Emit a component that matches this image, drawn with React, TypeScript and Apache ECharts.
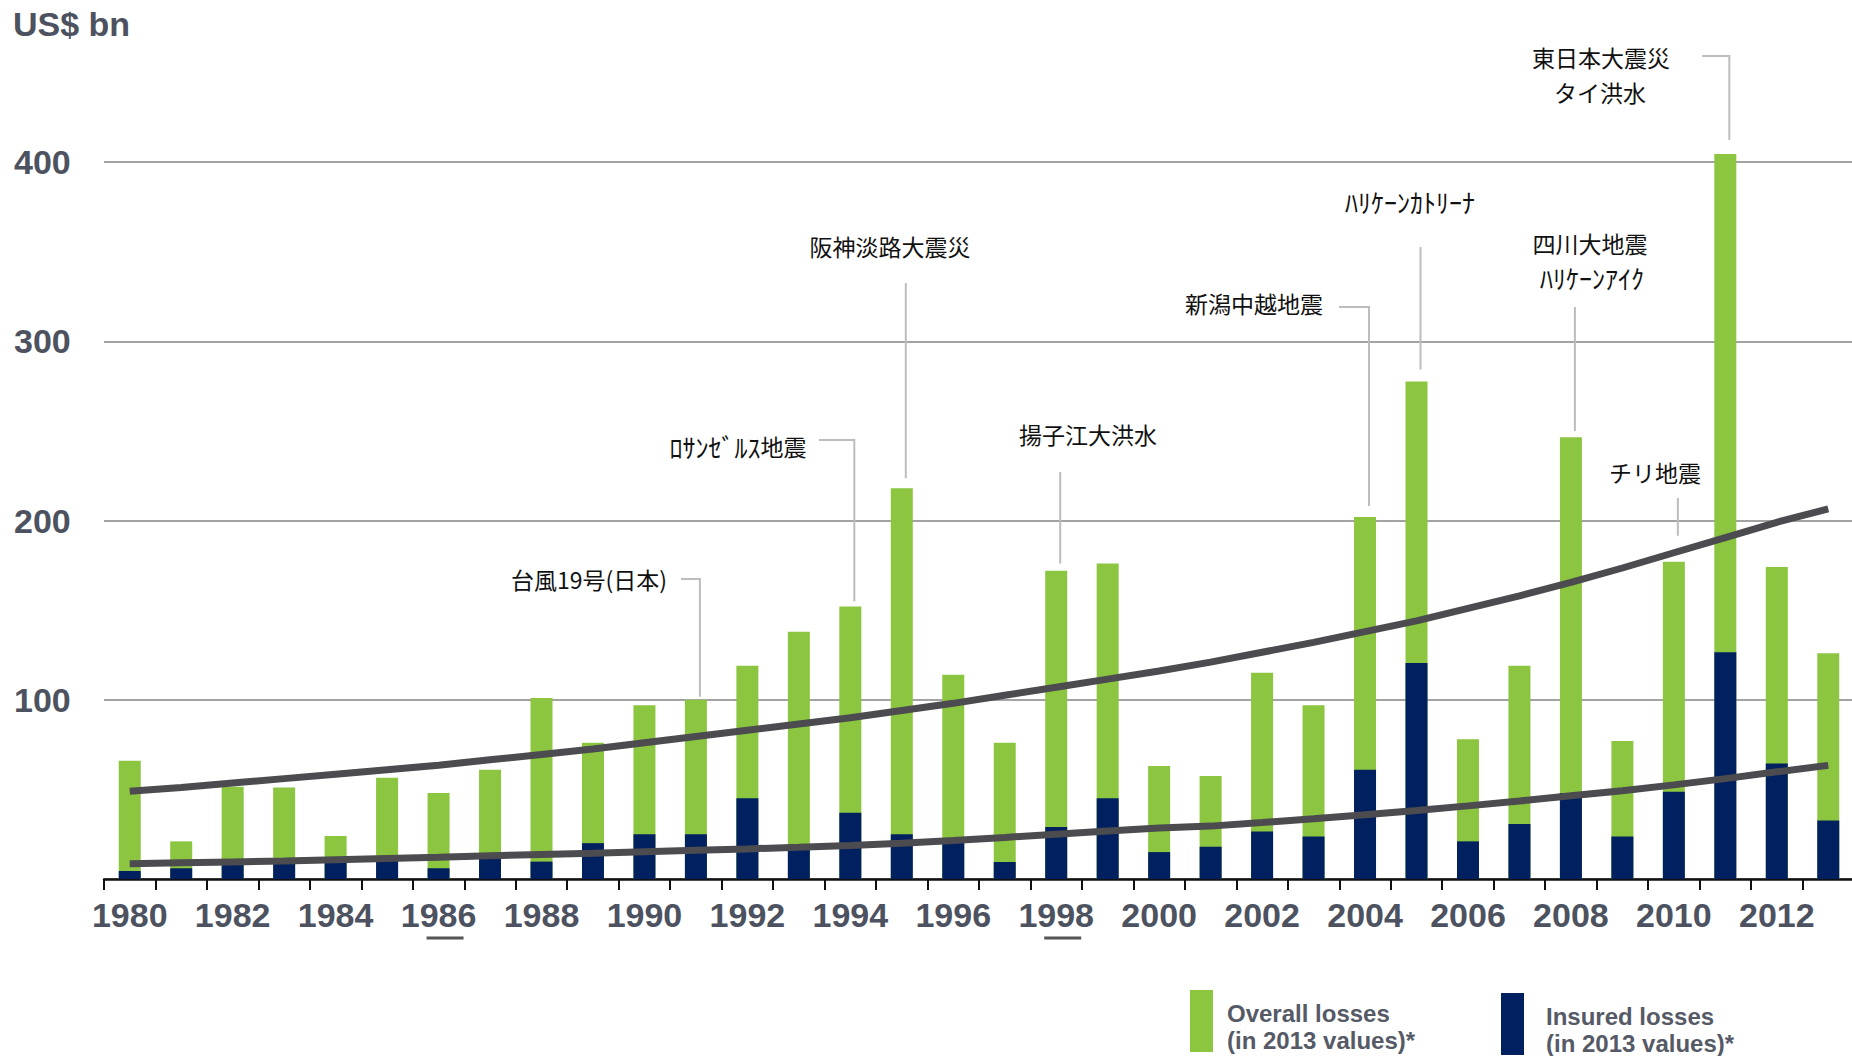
import React, { useEffect, useRef } from "react";
import * as echarts from "echarts";

const years = [
  "1980", "1981", "1982", "1983", "1984", "1985", "1986", "1987", "1988", "1989",
  "1990", "1991", "1992", "1993", "1994", "1995", "1996", "1997", "1998", "1999",
  "2000", "2001", "2002", "2003", "2004", "2005", "2006", "2007", "2008", "2009",
  "2010", "2011", "2012", "2013",
];

const overallLosses = [
  66, 21, 51.5, 51, 24, 56.5, 48, 61, 101, 76,
  97, 100, 119, 138, 152, 218, 114, 76, 172, 176,
  63, 57.5, 115, 97, 202, 277.5, 78, 119, 246.5, 77,
  177, 404.5, 174, 126,
];

const insuredLosses = [
  4.5, 6, 8, 9, 9, 10.5, 6, 12, 9.7, 20,
  25, 25, 45, 18, 37, 25, 21, 9.5, 29, 45,
  15, 18, 26.5, 23.7, 61, 120.5, 21, 30.7, 48, 23.7,
  48.7, 126.5, 64.4, 32.6,
];

const overallTrend = [
  49, 51, 53.5, 56, 58.5, 61, 63.5, 66.5, 69.5, 72.5,
  76, 79.5, 83, 86.5, 90, 94, 98, 102.5, 107, 111.5,
  116, 121, 126.5, 132, 138, 144, 151, 158, 165.5, 173.5,
  182, 190.5, 199, 206.5,
];

const insuredTrend = [
  8.5, 9, 9.5, 10, 10.8, 11.5, 12.2, 13, 13.7, 14.4,
  15.2, 16, 16.8, 17.7, 18.7, 20, 21.5, 23.2, 25, 26.8,
  28.4, 29.5, 31.5, 33.6, 35.8, 38.2, 40.8, 43.5, 46.4, 49.2,
  52.5, 56, 59.8, 63.4,
];

const yTicks = [0, 100, 200, 300, 400];

const overallName = "Overall losses\n(in 2013 values)*";
const insuredName = "Insured losses\n(in 2013 values)*";

type Line = { text: string; x: number; y: number; rich?: boolean };
type Annotation = {
  year: string;
  lines: Line[];
  topY: number;
  hookX?: number;
  gap: number;
};

const annotations: Annotation[] = [
  { year: "1991", lines: [{ text: "台風19号(日本)", x: 589, y: 579 }], topY: 579, hookX: 681, gap: 3 },
  { year: "1994", lines: [{ text: "{k|ﾛｻﾝｾﾞﾙｽ}{n|地震}", x: 738, y: 446, rich: true }], topY: 440, hookX: 819, gap: 5 },
  { year: "1995", lines: [{ text: "阪神淡路大震災", x: 890, y: 246 }], topY: 283, gap: 10 },
  { year: "1998", lines: [{ text: "揚子江大洪水", x: 1088, y: 434 }], topY: 472, gap: 7 },
  { year: "2004", lines: [{ text: "新潟中越地震", x: 1254, y: 303 }], topY: 307, hookX: 1339, gap: 11 },
  { year: "2005", lines: [{ text: "{k|ﾊﾘｹｰﾝｶﾄﾘｰﾅ}", x: 1410, y: 201, rich: true }], topY: 247, gap: 12 },
  {
    year: "2008",
    lines: [
      { text: "四川大地震", x: 1590, y: 243 },
      { text: "{k|ﾊﾘｹｰﾝｱｲｸ}", x: 1592, y: 277, rich: true },
    ],
    topY: 307,
    gap: 6,
  },
  { year: "2010", lines: [{ text: "チリ地震", x: 1655, y: 472 }], topY: 498, gap: 26 },
  {
    year: "2011",
    lines: [
      { text: "東日本大震災", x: 1601, y: 57 },
      { text: "タイ洪水", x: 1600, y: 92 },
    ],
    topY: 56,
    hookX: 1702,
    gap: 14,
  },
];

const underlinedYears = ["1986", "1998"];

const GREEN = "#8CC540";
const NAVY = "#00205F";
const TREND = "#4b4b50";
const LABEL = "#4d5260";
const CJK = '"Noto Sans CJK JP", "Noto Sans CJK SC", sans-serif';
const LATIN = '"Liberation Sans", Arial, sans-serif';

export default function App() {
  const ref = useRef<HTMLDivElement>(null);

  useEffect(() => {
    if (!ref.current) return;
    const chart = echarts.init(ref.current, null, { renderer: "svg" });

    const legendText = { fontSize: 24, fontWeight: "bold", color: "#555a66", fontFamily: LATIN, lineHeight: 27 };

    const option: any = {
      animation: false,
      title: {
        text: "US$ bn",
        left: 13,
        top: 7,
        padding: 0,
        textStyle: { fontSize: 34, fontWeight: "bold", color: LABEL, fontFamily: LATIN },
      },
      grid: { left: 104, right: -2, top: 162, bottom: 177, outerBoundsMode: "none" },
      legend: [
        {
          data: [overallName],
          left: 1190,
          top: 990,
          padding: 0,
          itemWidth: 32,
          itemHeight: 74,
          icon: "path://M0 0H23V62H0Z M32 74",
          selectedMode: false,
          textStyle: legendText,
        },
        {
          data: [insuredName],
          left: 1501,
          top: 993,
          padding: 0,
          itemWidth: 40,
          itemHeight: 74,
          icon: "path://M0 0H23V62H0Z M40 74",
          selectedMode: false,
          textStyle: legendText,
        },
      ],
      xAxis: {
        type: "category",
        data: years,
        boundaryGap: true,
        axisLine: { show: true, lineStyle: { color: "#111", width: 2.5 } },
        axisTick: { show: true, interval: 0, length: 11, lineStyle: { color: "#111", width: 2 } },
        axisLabel: {
          interval: 1,
          margin: 19,
          fontSize: 34,
          fontWeight: "bold",
          color: LABEL,
          fontFamily: LATIN,
        },
        splitLine: { show: false },
      },
      yAxis: {
        type: "value",
        min: yTicks[0],
        max: yTicks[yTicks.length - 1],
        interval: 100,
        axisLine: { show: false },
        axisTick: { show: false },
        axisLabel: {
          align: "left",
          margin: 90,
          fontSize: 34,
          fontWeight: "bold",
          color: LABEL,
          fontFamily: LATIN,
          formatter: (v: number) => (v === 0 ? "" : String(v)),
        },
        splitLine: { show: true, lineStyle: { color: "#a3a3a3", width: 2 } },
      },
      series: [
        {
          name: overallName,
          type: "bar",
          data: overallLosses,
          barWidth: 22,
          barGap: "-100%",
          clip: false,
          itemStyle: { color: GREEN },
          z: 2,
        },
        {
          name: insuredName,
          type: "bar",
          data: insuredLosses,
          barWidth: 22,
          barGap: "-100%",
          clip: false,
          itemStyle: { color: NAVY },
          z: 3,
        },
        {
          type: "line",
          data: overallTrend,
          symbol: "none",
          silent: true,
          lineStyle: { color: TREND, width: 7 },
          z: 5,
        },
        {
          type: "line",
          data: insuredTrend,
          symbol: "none",
          silent: true,
          lineStyle: { color: TREND, width: 7 },
          z: 5,
        },
      ],
    };

    chart.setOption(option);

    const toPx = (year: string, v: number) =>
      chart.convertToPixel({ xAxisIndex: 0, yAxisIndex: 0 }, [year, v]) as number[];

    const richStyles = {
      k: { fontSize: 26, fontFamily: CJK, fill: "#111" },
      n: { fontSize: 23, fontFamily: CJK, fill: "#111" },
    };

    const graphics: any[] = [];
    annotations.forEach((a) => {
      const idx = years.indexOf(a.year);
      const [bx, by] = toPx(a.year, overallLosses[idx]);
      const lx = bx + 4;
      const endY = by - a.gap;
      const pts =
        a.hookX != null
          ? [
              [a.hookX, a.topY],
              [lx, a.topY],
              [lx, endY],
            ]
          : [
              [lx, a.topY],
              [lx, endY],
            ];
      graphics.push({
        type: "polyline",
        shape: { points: pts },
        style: { stroke: "#bdbdbd", lineWidth: 2, fill: null },
        z: 10,
        silent: true,
      });
      a.lines.forEach((l) => {
        graphics.push({
          type: "text",
          x: l.x,
          y: l.y,
          z: 10,
          silent: true,
          style: {
            text: l.text,
            fill: "#111",
            fontSize: 23,
            fontFamily: CJK,
            align: "center",
            verticalAlign: "middle",
            rich: l.rich ? richStyles : undefined,
          },
        });
      });
    });

    underlinedYears.forEach((y) => {
      const [ux, uy] = toPx(y, 0);
      graphics.push({
        type: "line",
        shape: { x1: ux - 12, y1: uy + 59, x2: ux + 25, y2: uy + 59 },
        style: { stroke: "#555", lineWidth: 3 },
        silent: true,
      });
    });

    chart.setOption({ graphic: graphics });

    return () => chart.dispose();
  }, []);

  return (
    <div
      ref={ref}
      style={{ position: "fixed", left: 0, top: 0, width: "1852px", height: "1056px", background: "#fff" }}
    />
  );
}
